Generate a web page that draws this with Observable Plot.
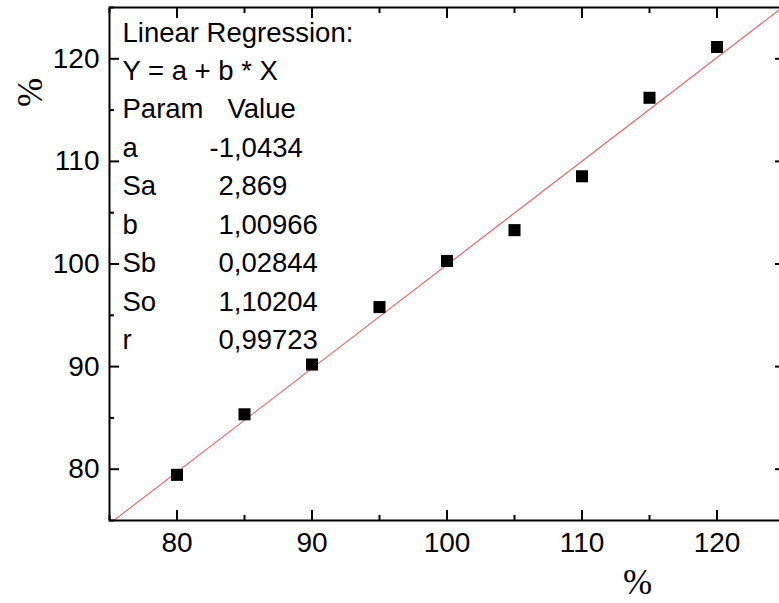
<!DOCTYPE html>
<html>
<head>
<meta charset="utf-8">
<script src="https://cdn.jsdelivr.net/npm/d3@7"></script>
<script src="https://cdn.jsdelivr.net/npm/@observablehq/plot@0.6"></script>
<style>
  html, body { margin: 0; padding: 0; background: #fff; overflow: hidden; }
  #chart svg { max-width: none !important; display: block; }
</style>
</head>
<body>
<div id="chart"></div>
<script>
// ---- data ----
const xValues = [80, 85, 90, 95, 100, 105, 110, 115, 120];
const yValues = [79.45, 85.35, 90.2, 95.8, 100.3, 103.3, 108.55, 116.2, 121.15];
const majorTicks = [80, 90, 100, 110, 120];
const minorTicks = [75, 85, 95, 105, 115, 125];
const fitA = -1.0434;
const fitB = 1.00966;
const headerLines = ["Linear Regression:", "Y = a + b * X"];
const paramHeader = ["Param", "Value"];
const paramNames = ["a", "Sa", "b", "Sb", "So", "r"];
const paramValues = ["-1,0434", "2,869", "1,00966", "0,02844", "1,10204", "0,99723"];
const axisLabelX = "%";
const axisLabelY = "%";

const points = xValues.map((x, i) => ({x, y: yValues[i]}));
const fitLine = [75, 125].map(x => ({x, y: fitA + fitB * x}));

// layout of the annotation block (pixels relative to the frame's top-left)
const rowStep = 38.45;
const firstBaseline = 34;
const labelDx = 13;
const valueDx = 109;
const boxFont = 27.5;
const sans = "'Liberation Sans', Arial, sans-serif";
const serif = "'Liberation Serif', 'Times New Roman', serif";

const blank = () => "";

function rowText(str, row, dx) {
  return Plot.text([str], {
    text: d => d,
    frameAnchor: "top-left",
    textAnchor: "start",
    lineAnchor: "bottom",
    dx,
    dy: firstBaseline + row * rowStep,
    fontSize: boxFont,
    fontFamily: sans,
    fill: "black"
  });
}

const boxMarks = [
  ...headerLines.map((t, i) => rowText(t, i, labelDx)),
  rowText(paramHeader[0], 2, labelDx),
  rowText(paramHeader[1], 2, 118),
  ...paramNames.map((n, i) => rowText(n, i + 3, labelDx)),
  ...paramValues.map((v, i) => rowText(v, i + 3, v.startsWith("-") ? valueDx - 9 : valueDx))
];

const chart = Plot.plot({
  width: 786,
  height: 603,
  marginLeft: 109,
  marginRight: 2,
  marginTop: 7,
  marginBottom: 83,
  x: {domain: [75, 125]},
  y: {domain: [75, 125]},
  style: {fontFamily: sans, fontSize: "28px", color: "black", background: "white"},
  marks: [
    Plot.line(fitLine, {x: "x", y: "y", stroke: "#ef5f63", strokeWidth: 1.1, clip: true}),
    Plot.dot(points, {x: "x", y: "y", symbol: "square", r: 6.8, fill: "black", stroke: "none"}),
    // bottom axis
    Plot.axisX({anchor: "bottom", ticks: majorTicks, tickSize: -10, tickPadding: 22, label: null, fontSize: 28, strokeWidth: 2}),
    Plot.axisX({anchor: "bottom", ticks: minorTicks, tickSize: -5, tickFormat: blank, label: null, strokeWidth: 2}),
    // top axis
    Plot.axisX({anchor: "top", ticks: majorTicks, tickSize: -10, tickFormat: blank, label: null, strokeWidth: 2}),
    Plot.axisX({anchor: "top", ticks: minorTicks, tickSize: -5, tickFormat: blank, label: null, strokeWidth: 2}),
    // left axis
    Plot.axisY({anchor: "left", ticks: majorTicks, tickSize: -10, tickPadding: 20, label: null, fontSize: 28, strokeWidth: 2}),
    Plot.axisY({anchor: "left", ticks: minorTicks, tickSize: -5, tickFormat: blank, label: null, strokeWidth: 2}),
    // right axis
    Plot.axisY({anchor: "right", ticks: majorTicks, tickSize: -10, tickFormat: blank, label: null, strokeWidth: 2}),
    Plot.axisY({anchor: "right", ticks: minorTicks, tickSize: -5, tickFormat: blank, label: null, strokeWidth: 2}),
    Plot.frame({stroke: "black", strokeWidth: 2}),
    // axis titles
    Plot.text([axisLabelX], {text: d => d, frameAnchor: "bottom-left", textAnchor: "middle", lineAnchor: "middle",
      dx: 528, dy: 62, fontSize: 35, fontFamily: serif, fill: "black"}),
    Plot.text([axisLabelY], {text: d => d, frameAnchor: "top-left", textAnchor: "middle", lineAnchor: "middle",
      dx: -79, dy: 85, rotate: -90, fontSize: 35, fontFamily: serif, fill: "black"}),
    ...boxMarks
  ]
});
document.getElementById("chart").append(chart);
</script>
</body>
</html>
